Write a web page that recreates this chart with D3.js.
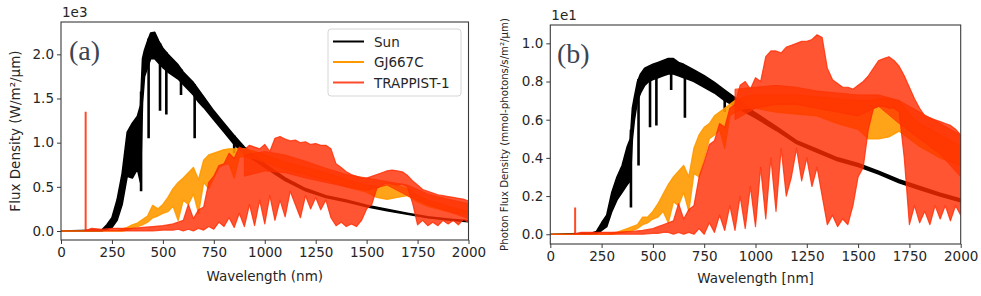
<!DOCTYPE html>
<html>
<head>
<meta charset="utf-8">
<script src="https://cdn.jsdelivr.net/npm/d3@7"></script>
<style>
  body { margin: 0; background: #fff; }
  svg text { font-family: 'DejaVu Sans', sans-serif; fill: #262626; }
  .axis path, .axis line { stroke: #3a3a3a; }
</style>
</head>
<body>
<div id="chart"></div>
<script>
// series names / colours
var seriesNames = ['Sun', 'GJ667C', 'TRAPPIST-1'];
var seriesColors = ['#000000', '#ff9900', '#ff2a00'];

var xTicks = [0, 250, 500, 750, 1000, 1250, 1500, 1750, 2000];
var yTicksA = [0, 0.5, 1.0, 1.5, 2.0];
var yTicksB = [0, 0.2, 0.4, 0.6, 0.8, 1.0];

// Sun (a: x1e3 W/m2/um, b: x1e1 mmol-photons/s/m2/um)
var sunWl = [0, 200, 225, 250, 275, 300, 325, 350, 375, 390, 400, 410, 425, 440, 460, 480, 500, 525, 550, 575,
  600, 625, 650, 675, 700, 750, 800, 850, 900, 950, 1000, 1100, 1200, 1300, 1400, 1500, 1600, 1700, 1800, 1900, 2000];
var sunHiA = [0, 0.01, 0.07, 0.15, 0.35, 0.65, 1.12, 1.22, 1.30, 1.42, 1.95, 2.05, 2.15, 2.24, 2.25, 2.15, 2.07, 2.00, 1.94, 1.88,
  1.80, 1.74, 1.68, 1.60, 1.52, 1.36, 1.22, 1.08, 0.95, 0.85, 0.76, 0.60, 0.48, 0.40, 0.35, 0.29, 0.245, 0.20, 0.16, 0.135, 0.115];
var sunLoA = [0, 0, 0.02, 0.04, 0.12, 0.30, 0.62, 0.60, 0.70, 0.55, 1.45, 1.75, 1.85, 1.95, 1.95, 1.90, 1.85, 1.80, 1.76, 1.72,
  1.66, 1.60, 1.54, 1.46, 1.40, 1.26, 1.12, 0.98, 0.87, 0.80, 0.72, 0.57, 0.455, 0.38, 0.33, 0.275, 0.23, 0.19, 0.15, 0.125, 0.105];
var sunHiB = [0, 0.005, 0.015, 0.06, 0.10, 0.22, 0.30, 0.36, 0.46, 0.50, 0.66, 0.72, 0.80, 0.84, 0.87, 0.88, 0.89, 0.90, 0.91, 0.92,
  0.92, 0.90, 0.89, 0.875, 0.86, 0.83, 0.795, 0.755, 0.715, 0.675, 0.635, 0.565, 0.49, 0.445, 0.40, 0.37, 0.33, 0.285, 0.25, 0.215, 0.185];
var sunLoB = [0, 0, 0.005, 0.02, 0.04, 0.12, 0.18, 0.22, 0.26, 0.28, 0.50, 0.60, 0.70, 0.74, 0.78, 0.80, 0.81, 0.82, 0.83, 0.84,
  0.84, 0.83, 0.82, 0.81, 0.80, 0.77, 0.74, 0.70, 0.67, 0.64, 0.61, 0.545, 0.475, 0.43, 0.385, 0.355, 0.315, 0.27, 0.235, 0.20, 0.17];
// deep absorption lines of the Sun
var sunLinesWl = [393, 430, 486, 517, 589, 656, 850];
var sunLinesA = [0.45, 1.05, 1.36, 1.32, 1.54, 1.05, 0.88];
var sunLinesB = [0.14, 0.36, 0.56, 0.57, 0.755, 0.61, 0.64];

// GJ667C
var gjWl = [0, 280, 300, 325, 350, 375, 400, 425, 450, 475, 500, 525, 550, 575, 600, 625, 650, 675, 700, 725,
  750, 775, 800, 825, 850, 875, 900, 950, 1000, 1100, 1200, 1300, 1400, 1500, 1550, 1600, 1650, 1700, 1750, 1800, 1900, 2000];
var gjHiA = [0, 0, 0.02, 0.04, 0.07, 0.09, 0.13, 0.17, 0.29, 0.25, 0.30, 0.38, 0.48, 0.55, 0.60, 0.66, 0.72, 0.58, 0.80, 0.86,
  0.88, 0.90, 0.92, 0.93, 0.93, 0.93, 0.93, 0.90, 0.86, 0.78, 0.72, 0.66, 0.58, 0.52, 0.50, 0.52, 0.52, 0.48, 0.40, 0.35, 0.28, 0.22];
var gjLoA = [0, 0, 0, 0.01, 0.03, 0.05, 0.07, 0.10, 0.15, 0.17, 0.20, 0.22, 0.28, 0.12, 0.35, 0.30, 0.42, 0.20, 0.55, 0.48,
  0.60, 0.72, 0.75, 0.76, 0.60, 0.84, 0.84, 0.82, 0.78, 0.70, 0.64, 0.58, 0.50, 0.44, 0.38, 0.36, 0.38, 0.40, 0.33, 0.28, 0.22, 0.18];
var gjHiB = [0, 0, 0.005, 0.01, 0.02, 0.03, 0.04, 0.05, 0.09, 0.09, 0.12, 0.16, 0.21, 0.26, 0.30, 0.33, 0.36, 0.30, 0.45, 0.52,
  0.56, 0.58, 0.62, 0.64, 0.66, 0.68, 0.70, 0.72, 0.73, 0.73, 0.73, 0.72, 0.71, 0.70, 0.70, 0.71, 0.71, 0.70, 0.63, 0.58, 0.52, 0.46];
var gjLoB = [0, 0, 0, 0.005, 0.01, 0.015, 0.02, 0.03, 0.05, 0.06, 0.08, 0.09, 0.12, 0.06, 0.17, 0.15, 0.22, 0.12, 0.32, 0.30,
  0.40, 0.50, 0.52, 0.55, 0.45, 0.62, 0.64, 0.66, 0.66, 0.64, 0.63, 0.62, 0.58, 0.55, 0.50, 0.50, 0.51, 0.54, 0.50, 0.46, 0.40, 0.36];

// TRAPPIST-1
var trWl = [0, 115, 150, 200, 250, 300, 350, 400, 450, 500,
  525, 550, 575, 600, 625, 650, 675, 700, 725, 750, 775, 800, 825, 850, 875, 900, 925, 950, 975, 1000,
  1025, 1050, 1075, 1100, 1125, 1150, 1175, 1200, 1225, 1250, 1275, 1300, 1325, 1350, 1375, 1400, 1425, 1450, 1475, 1500,
  1525, 1550, 1575, 1600, 1625, 1650, 1675, 1700, 1725, 1750, 1775, 1800, 1825, 1850, 1875, 1900, 1925, 1950, 1975, 2000];
var trHiA = [0, 0, 0.03, 0.02, 0.03, 0.03, 0.03, 0.04, 0.05, 0.06,
  0.07, 0.08, 0.10, 0.12, 0.30, 0.14, 0.24, 0.27, 0.55, 0.62, 0.74, 0.76, 0.88, 0.82, 0.95, 0.92, 0.97, 0.95, 0.93, 0.98,
  0.90, 1.05, 1.07, 1.04, 1.02, 1.03, 1.00, 1.01, 0.98, 0.99, 0.97, 0.97, 0.93, 0.76, 0.72, 0.67, 0.64, 0.62, 0.60, 0.60,
  0.62, 0.64, 0.66, 0.68, 0.69, 0.68, 0.67, 0.63, 0.57, 0.52, 0.47, 0.45, 0.43, 0.41, 0.40, 0.39, 0.38, 0.37, 0.36, 0.34];
var trLoA = [0, 0, 0, 0, 0, 0, 0, 0, 0, 0.01,
  0.01, 0.01, 0.02, 0, 0.02, 0, 0.03, 0.01, 0.05, 0.02, 0.10, 0.05, 0.15, 0.04, 0.20, 0.05, 0.30, 0.06, 0.35, 0.08,
  0.40, 0.12, 0.35, 0.16, 0.45, 0.30, 0.15, 0.40, 0.25, 0.38, 0.24, 0.35, 0.15, 0.06, 0.10, 0.05, 0.08, 0.05, 0.12, 0.25,
  0.30, 0.48, 0.52, 0.54, 0.53, 0.52, 0.53, 0.50, 0.32, 0.07, 0.12, 0.06, 0.10, 0.06, 0.12, 0.08, 0.12, 0.07, 0.13, 0.10];
var trHiB = [0, 0, 0.01, 0.01, 0.01, 0.01, 0.012, 0.015, 0.02, 0.03,
  0.04, 0.05, 0.06, 0.07, 0.16, 0.08, 0.13, 0.15, 0.30, 0.38, 0.47, 0.49, 0.58, 0.56, 0.66, 0.68, 0.78, 0.80, 0.76, 0.82,
  0.80, 0.93, 0.96, 0.96, 0.95, 0.98, 0.99, 1.00, 1.01, 1.01, 1.02, 1.045, 1.03, 0.87, 0.81, 0.79, 0.77, 0.77, 0.76, 0.78,
  0.80, 0.83, 0.87, 0.91, 0.92, 0.93, 0.91, 0.88, 0.83, 0.77, 0.71, 0.66, 0.62, 0.61, 0.60, 0.59, 0.58, 0.57, 0.55, 0.52];
var trLoB = [0, 0, 0, 0, 0, 0, 0, 0, 0, 0.005,
  0.005, 0.01, 0.01, 0, 0.01, 0, 0.01, 0, 0.03, 0, 0.06, 0.01, 0.10, 0.02, 0.15, 0.02, 0.20, 0.03, 0.25, 0.04,
  0.35, 0.08, 0.40, 0.12, 0.45, 0.20, 0.30, 0.45, 0.28, 0.40, 0.25, 0.35, 0.20, 0.05, 0.10, 0.04, 0.08, 0.05, 0.15, 0.30,
  0.35, 0.55, 0.66, 0.67, 0.67, 0.66, 0.66, 0.64, 0.40, 0.05, 0.15, 0.06, 0.12, 0.05, 0.15, 0.08, 0.15, 0.07, 0.15, 0.10];
// dense band of the TRAPPIST-1 spectrum
var trCoreWl = [900, 1000, 1100, 1200, 1300, 1400, 1500, 1600, 1700, 1800, 1900, 2000];
var trCoreHiA = [0.86, 0.90, 0.86, 0.79, 0.71, 0.64, 0.60, 0.56, 0.52, 0.42, 0.36, 0.31];
var trCoreLoA = [0.62, 0.68, 0.66, 0.60, 0.55, 0.50, 0.46, 0.52, 0.40, 0.30, 0.22, 0.14];
var trCoreHiB = [0.76, 0.77, 0.78, 0.77, 0.75, 0.74, 0.73, 0.73, 0.70, 0.64, 0.58, 0.52];
var trCoreLoB = [0.60, 0.66, 0.68, 0.68, 0.66, 0.64, 0.62, 0.67, 0.58, 0.50, 0.42, 0.30];
// Lyman alpha line
var lyaWl = 121;
var lyaA = 1.35;
var lyaB = 0.14;

var W = 981, H = 296;
var svg = d3.select('#chart').append('svg').attr('width', W).attr('height', H);

function zip(wl, hi, lo) {
    return wl.map(function (w, i) { return { w: w, hi: hi[i], lo: lo[i] }; });
}

function drawPanel(p) {
    var x = d3.scaleLinear().domain([0, 2000]).range([p.left, p.right]);
    var y = d3.scaleLinear().domain(p.ydom).range([p.bottom, p.top]);
    var clipId = 'clip' + p.tag.replace(/\W/g, '');
    svg.append('clipPath').attr('id', clipId).append('rect')
        .attr('x', p.left).attr('y', p.top)
        .attr('width', p.right - p.left).attr('height', p.bottom - p.top);
    var g = svg.append('g').attr('clip-path', 'url(#' + clipId + ')');

    function band(data, color, opacity, sw) {
        var area = d3.area()
            .x(function (d) { return x(d.w); })
            .y0(function (d) { return y(d.lo); })
            .y1(function (d) { return y(d.hi); });
        g.append('path').datum(data).attr('d', area)
            .attr('fill', color).attr('fill-opacity', opacity)
            .attr('stroke', color).attr('stroke-opacity', opacity)
            .attr('stroke-width', sw).attr('stroke-linejoin', 'round');
    }

    // Sun
    band(zip(sunWl, p.sunHi, p.sunLo), seriesColors[0], 1, 1.6);
    var sunTop = d3.scaleLinear().domain(sunWl).range(p.sunHi);
    g.selectAll('.sunline').data(sunLinesWl).enter().append('line')
        .attr('x1', function (d) { return x(d); }).attr('x2', function (d) { return x(d); })
        .attr('y1', function (d) { return y(sunTop(d)); })
        .attr('y2', function (d, i) { return y(p.sunLines[i]); })
        .attr('stroke', seriesColors[0]).attr('stroke-width', 2.6);

    // GJ667C
    band(zip(gjWl, p.gjHi, p.gjLo), seriesColors[1], 0.9, 1.4);

    // TRAPPIST-1
    band(zip(trWl, p.trHi, p.trLo), '#ff2a00', 0.8, 1.2);
    band(zip(trCoreWl, p.trCoreHi, p.trCoreLo), '#ff3300', 0.75, 1);
    g.append('line')
        .attr('x1', x(lyaWl)).attr('x2', x(lyaWl))
        .attr('y1', y(0)).attr('y2', y(p.lya))
        .attr('stroke', '#ff2a00').attr('stroke-opacity', 0.85).attr('stroke-width', 2);

    // axes
    svg.append('g').attr('class', 'axis')
        .attr('transform', 'translate(0,' + p.bottom + ')')
        .call(d3.axisBottom(x).tickValues(xTicks).tickSize(4).tickPadding(3).tickFormat(d3.format('d')))
        .call(function (s) { s.select('.domain').remove(); })
        .selectAll('text').style('font-size', '13.5px');
    svg.append('g').attr('class', 'axis')
        .attr('transform', 'translate(' + p.left + ',0)')
        .call(d3.axisLeft(y).tickValues(p.yTicks).tickSize(4).tickPadding(3).tickFormat(d3.format('.1f')))
        .call(function (s) { s.select('.domain').remove(); })
        .selectAll('text').style('font-size', '13.5px');
    svg.append('rect')
        .attr('x', p.left).attr('y', p.top)
        .attr('width', p.right - p.left).attr('height', p.bottom - p.top)
        .attr('fill', 'none').attr('stroke', '#3a3a3a').attr('stroke-width', 1.1);

    // texts
    svg.append('text').attr('x', p.left + 1).attr('y', p.top - 5)
        .style('font-size', '13.5px').text(p.offset);
    svg.append('text').attr('x', p.tagX).attr('y', p.top + 38)
        .style('font-family', "'Liberation Serif', serif").style('font-size', '28px')
        .style('fill', '#3c4452').text(p.tag);
    svg.append('text').attr('x', (p.left + p.right) / 2).attr('y', p.xLabelY)
        .attr('text-anchor', 'middle').style('font-size', '13.5px').text(p.xLabel);
    svg.append('text')
        .attr('transform', 'translate(' + p.yLabelX + ',' + ((p.top + p.bottom) / 2) + ')rotate(-90)')
        .attr('text-anchor', 'middle').style('font-size', p.yLabelSize)
        .text(p.yLabel);
}

drawPanel({
    tag: '(a)', left: 61, right: 468.5, top: 22, bottom: 240, ydom: [-0.102, 2.366],
    yTicks: yTicksA, sunHi: sunHiA, sunLo: sunLoA, sunLines: sunLinesA,
    gjHi: gjHiA, gjLo: gjLoA, trHi: trHiA, trLo: trLoA, trCoreHi: trCoreHiA, trCoreLo: trCoreLoA, lya: lyaA,
    offset: '1e3', tagX: 69, xLabel: 'Wavelength (nm)', xLabelY: 281,
    yLabel: 'Flux Density (W/m\u00b2/\u03bcm)', yLabelX: 20, yLabelSize: '13.5px'
});
drawPanel({
    tag: '(b)', left: 550.3, right: 960.7, top: 25, bottom: 244, ydom: [-0.051, 1.096],
    yTicks: yTicksB, sunHi: sunHiB, sunLo: sunLoB, sunLines: sunLinesB,
    gjHi: gjHiB, gjLo: gjLoB, trHi: trHiB, trLo: trLoB, trCoreHi: trCoreHiB, trCoreLo: trCoreLoB, lya: lyaB,
    offset: '1e1', tagX: 557, xLabel: 'Wavelength [nm]', xLabelY: 283,
    yLabel: 'Photon Flux Density (mmol-photons/s/m\u00b2/\u03bcm)', yLabelX: 508, yLabelSize: '10.2px'
});

// legend (panel a)
var leg = svg.append('g').attr('transform', 'translate(328,29)');
leg.append('rect').attr('width', 133).attr('height', 67).attr('rx', 3)
    .attr('fill', '#fff').attr('fill-opacity', 0.85).attr('stroke', '#d6d6d6');
seriesNames.forEach(function (name, i) {
    var yy = 12.5 + i * 20.5;
    leg.append('line').attr('x1', 5).attr('x2', 36).attr('y1', yy).attr('y2', yy)
        .attr('stroke', i === 2 ? '#ff4a2a' : seriesColors[i]).attr('stroke-width', 2);
    leg.append('text').attr('x', 46).attr('y', yy + 5).style('font-size', '13.5px').text(name);
});
</script>
</body>
</html>
